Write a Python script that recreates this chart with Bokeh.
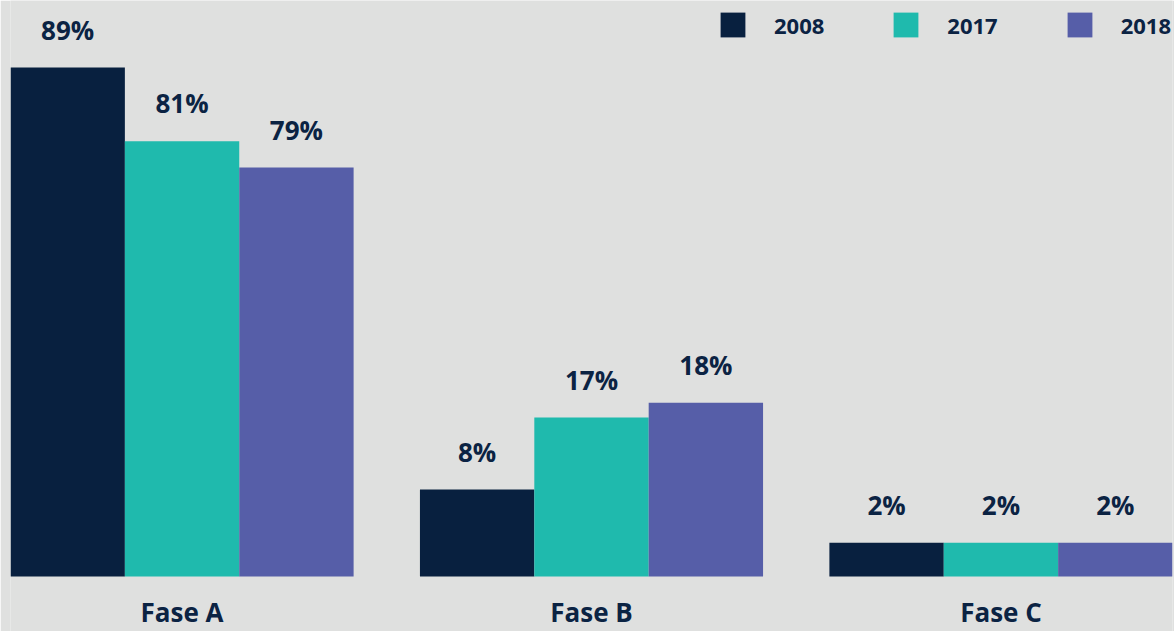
from bokeh.plotting import figure
from bokeh.models import ColumnDataSource, FactorRange, Range1d
from bokeh.core.properties import value
from bokeh.embed import file_html
from bokeh.resources import INLINE

# ---- data -------------------------------------------------------------
phases = ["Fase A", "Fase B", "Fase C"]
years = ["2008", "2017", "2018"]
# percentages printed above each bar
labels_2008 = [89, 8, 2]
labels_2017 = [81, 17, 2]
labels_2018 = [79, 18, 2]
# bar heights as drawn in the picture (same scale as the 89 % bar)
height_2008 = [89.0, 15.2, 5.9]
height_2017 = [76.1, 27.8, 5.9]
height_2018 = [71.5, 30.4, 5.9]

colors = {"2008": "#08203f", "2017": "#1fbaad", "2018": "#565ea8"}
BG = "#dfe0df"
TXT = "#0b2343"
FONT_NAME = "Open Sans"
FONT = value(FONT_NAME)

labels = {"2008": labels_2008, "2017": labels_2017, "2018": labels_2018}
heights = {"2008": height_2008, "2017": height_2017, "2018": height_2018}

factors = [(ph, yr) for ph in phases for yr in years]

p = figure(
    width=1174, height=631,
    x_range=FactorRange(*factors, range_padding=0, group_padding=0.58, factor_padding=0),
    y_range=Range1d(-9.62, 100.72),
    output_backend="svg", toolbar_location=None,
    min_border_left=10, min_border_right=2, min_border_top=0, min_border_bottom=0,
)
p.background_fill_color = BG
p.border_fill_color = BG
p.outline_line_color = None
p.axis.visible = False
p.grid.visible = False

for yr in years:
    src = ColumnDataSource(dict(
        x=[(ph, yr) for ph in phases],
        top=heights[yr],
        txt=[f"{v}%" for v in labels[yr]],
    ))
    p.vbar(x="x", top="top", bottom=0, width=1.0, source=src,
           fill_color=colors[yr], line_color=None, legend_label=yr)
    p.text(x="x", y="top", text="txt", source=src,
           text_align="center", text_baseline="alphabetic", y_offset=-38,
           text_font=FONT, text_font_style="bold", text_font_size="26px",
           text_color=TXT)

# category labels below the bars
p.text(x=phases, y=[0, 0, 0], text=phases,
       text_align="center", text_baseline="alphabetic", y_offset=36,
       text_font=FONT, text_font_style="bold", text_font_size="26px",
       text_color=TXT)

lg = p.legend[0]
lg.orientation = "horizontal"
lg.location = (707, 591)
lg.spacing = 66
lg.label_standoff = 26
lg.glyph_width = 31
lg.glyph_height = 31
lg.padding = 0
lg.margin = 0
lg.border_line_color = None
lg.background_fill_alpha = 0
lg.label_text_font = FONT_NAME
lg.label_text_font_style = "bold"
lg.label_text_font_size = "22px"
lg.label_text_color = TXT

open("out.html", "w").write(file_html(p, INLINE))
